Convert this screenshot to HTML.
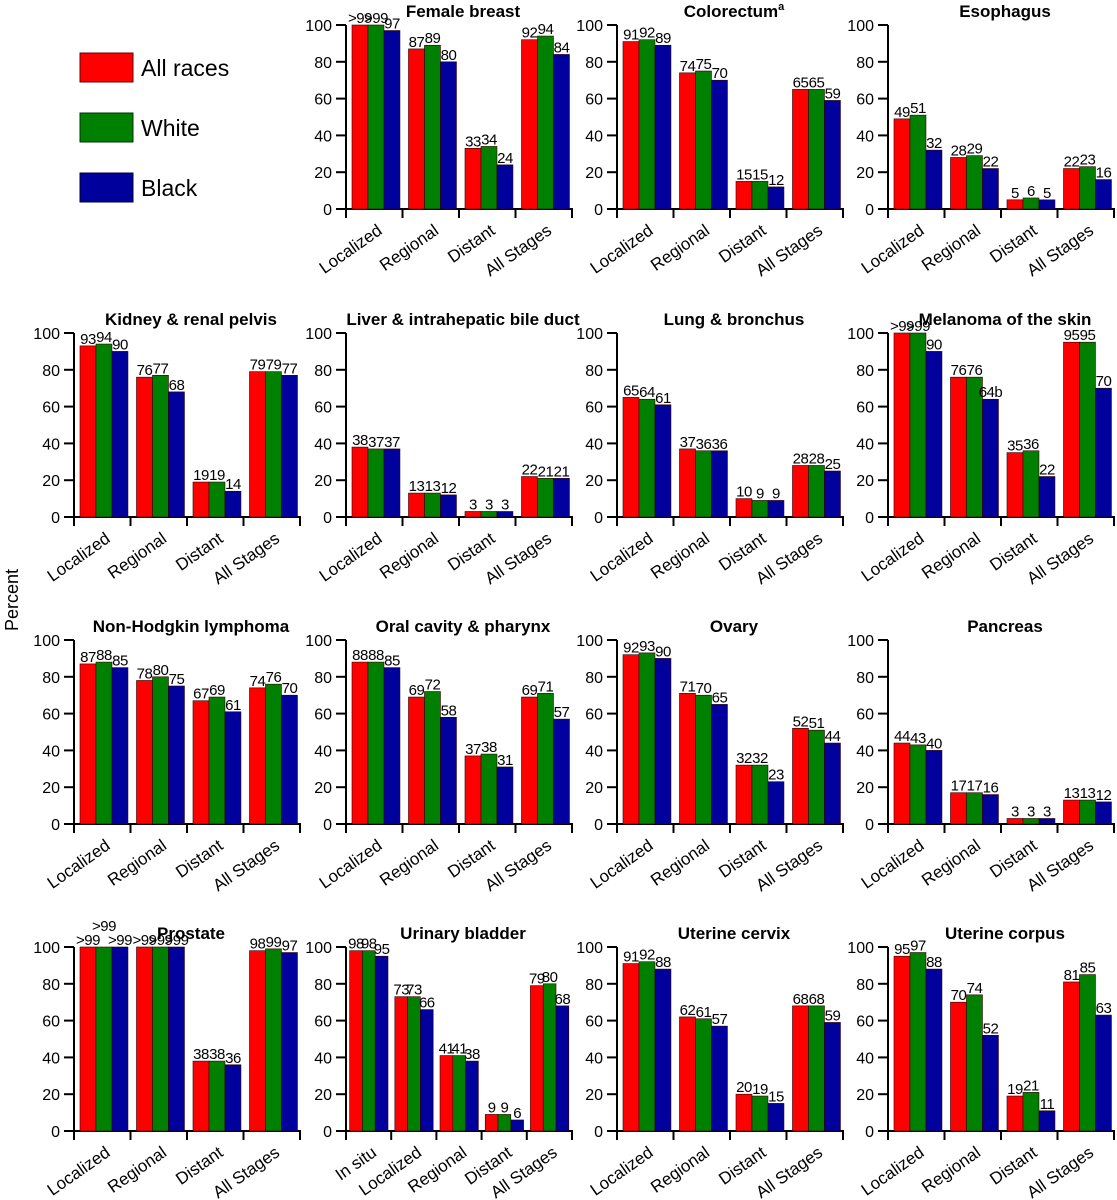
<!DOCTYPE html>
<html><head><meta charset="utf-8"><style>
html,body{margin:0;padding:0;background:#fff;}
svg{display:block;font-family:"Liberation Sans",Arial,sans-serif;}
</style></head><body>
<svg id="chart" width="1117" height="1200" viewBox="0 0 1117 1200">
  <g>
    <rect x="80" y="53" width="53" height="29" fill="#ff0000" stroke="#600" stroke-width="1"/>
    <text x="141" y="76" font-size="23">All races</text>
    <rect x="80" y="113" width="53" height="29" fill="#008000" stroke="#030" stroke-width="1"/>
    <text x="141" y="136" font-size="23">White</text>
    <rect x="80" y="173" width="53" height="29" fill="#00009c" stroke="#003" stroke-width="1"/>
    <text x="141" y="196" font-size="23">Black</text>
  </g>
  <text x="0" y="0" font-size="18" text-anchor="middle" transform="translate(18,600) rotate(-90)">Percent</text>
</svg>
<script>
const titles = ["Female breast","Colorectum","Esophagus","Kidney & renal pelvis","Liver & intrahepatic bile duct","Lung & bronchus","Melanoma of the skin","Non-Hodgkin lymphoma","Oral cavity & pharynx","Ovary","Pancreas","Prostate","Urinary bladder","Uterine cervix","Uterine corpus"];
const stages4 = ["Localized","Regional","Distant","All Stages"];
const stages5 = ["In situ","Localized","Regional","Distant","All Stages"];
const allRaces = [
 [">99","87","33","92"],["91","74","15","65"],["49","28","5","22"],
 ["93","76","19","79"],["38","13","3","22"],["65","37","10","28"],[">99","76","35","95"],
 ["87","78","67","74"],["88","69","37","69"],["92","71","32","52"],["44","17","3","13"],
 [">99",">99","38","98"],["98","73","41","9","79"],["91","62","20","68"],["95","70","19","81"]];
const white = [
 [">99","89","34","94"],["92","75","15","65"],["51","29","6","23"],
 ["94","77","19","79"],["37","13","3","21"],["64","36","9","28"],[">99","76","36","95"],
 ["88","80","69","76"],["88","72","38","71"],["93","70","32","51"],["43","17","3","13"],
 [">99",">99","38","99"],["98","73","41","9","80"],["92","61","19","68"],["97","74","21","85"]];
const black = [
 ["97","80","24","84"],["89","70","12","59"],["32","22","5","16"],
 ["90","68","14","77"],["37","12","3","21"],["61","36","9","25"],["90","64b","22","70"],
 ["85","75","61","70"],["85","58","31","57"],["90","65","23","44"],["40","16","3","12"],
 [">99",">99","36","97"],["95","66","38","6","68"],["88","57","15","59"],["88","52","11","63"]];
const yTicks = [0,20,40,60,80,100];

const svg = document.getElementById('chart');
const NS = 'http://www.w3.org/2000/svg';
function mk(tag, attrs, parent){const e=document.createElementNS(NS,tag);for(const k in attrs)e.setAttribute(k,attrs[k]);(parent||svg).appendChild(e);return e;}
function num(s){return s.startsWith('>')?100:parseFloat(s);}
const colAxis=[74,346,617,888], rowZero=[209,517,824,1131];
const plotW=226, plotH=184;
const colors=['#ff0000','#008000','#00009c'];
const series=[allRaces,white,black];
function slug(s){return s.toLowerCase().replace(/[^a-z0-9]+/g,'-').replace(/^-|-$/g,'');}

titles.forEach((title,i)=>{
  const pos=i+1, r=Math.floor(pos/4), c=pos%4;
  const x0=colAxis[c], y0=rowZero[r];
  const yS=v=>y0-v/100*plotH;
  const cats=allRaces[i].length===5?stages5:stages4;
  const gw=plotW/cats.length;
  const g=mk('g',{});
  
  
  const t=mk('text',{x:x0+plotW/2+4,y:y0-plotH-8,'font-size':17,'font-weight':'bold','text-anchor':'middle'},g);
  
  
  t.textContent=title;
  if(title==='Colorectum'){const sp=mk('tspan',{'font-size':11,dy:-7},t);sp.textContent='a';}
  const ya=mk('line',{x1:x0,y1:yS(100),x2:x0,y2:y0,stroke:'#000','stroke-width':2},g);
  
  
  yTicks.forEach(v=>{
    mk('line',{x1:x0-10,y1:yS(v),x2:x0,y2:yS(v),stroke:'#000','stroke-width':2},g);
    const tl=mk('text',{x:x0-14,y:yS(v)+6,'font-size':16,'text-anchor':'end'},g);
    
    
    tl.textContent=v;
  });
  const xa=mk('line',{x1:x0,y1:y0,x2:x0+plotW,y2:y0,stroke:'#000','stroke-width':2},g);
  
  
  for(let k=0;k<=cats.length;k++) mk('line',{x1:x0+k*gw,y1:y0-1,x2:x0+k*gw,y2:y0+9,stroke:'#000','stroke-width':2},g);
  cats.forEach((cat,k)=>{
    const gx=x0+k*gw, bw=gw*0.283, off=gw*(cats.length===5?0.08:0.106);
    series.forEach((s,j)=>{
      const lab=s[i][k], v=num(lab);
      const bx=gx+off+j*bw;
      const b=mk('rect',{x:bx,y:yS(v),width:bw,height:y0-yS(v),fill:colors[j],stroke:'#300','stroke-width':0.6},g);
      
      
      let ly=yS(v)-2;
      if(title==='Prostate'&&k===0&&j===1) ly-=14;
      const vl=mk('text',{x:bx+bw/2,y:ly,'font-size':15,'text-anchor':'middle','letter-spacing':'-0.5'},g);
      
      
      vl.textContent=lab;
    });
    const cx=gx+gw/2+9, cy=y0+24;
    const xl=mk('text',{x:cx,y:cy,'font-size':17,'text-anchor':'end',transform:`rotate(-35 ${cx} ${cy})`},g);
    
    
    xl.textContent=cat;
  });
});
</script>
</body></html>
